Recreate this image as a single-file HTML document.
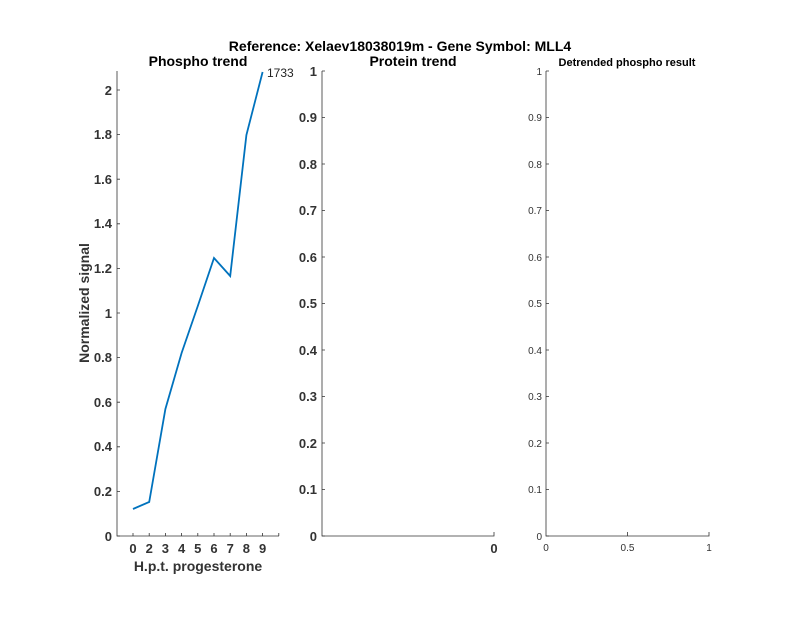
<!DOCTYPE html>
<html><head><style>body{margin:0;background:#fff}</style></head><body>
<svg width="800" height="618" xmlns="http://www.w3.org/2000/svg" font-family="Liberation Sans, sans-serif">
<rect width="800" height="618" fill="#fff"/>
<text x="400" y="51" text-anchor="middle" font-size="14" font-weight="bold" fill="#000">Reference:  Xelaev18038019m - Gene Symbol:  MLL4</text>
<g stroke="#333" stroke-width="0.8" fill="none">
<path d="M117,71 V536 H279"/>
<path d="M117,536h3M117,491.4h3M117,446.8h3M117,402.2h3M117,357.6h3M117,313h3M117,268.4h3M117,223.8h3M117,179.2h3M117,134.6h3M117,90h3"/>
<path d="M133,536v-3M149.2,536v-3M165.4,536v-3M181.6,536v-3M197.8,536v-3M214,536v-3M230.2,536v-3M246.4,536v-3M262.6,536v-3M278.8,536v-3"/>
</g>
<g font-size="13" font-weight="bold" fill="#333" text-anchor="end">
<text x="112" y="541">0</text><text x="112" y="496">0.2</text><text x="112" y="451">0.4</text><text x="112" y="407">0.6</text><text x="112" y="362">0.8</text><text x="112" y="318">1</text><text x="112" y="273">1.2</text><text x="112" y="228">1.4</text><text x="112" y="184">1.6</text><text x="112" y="139">1.8</text><text x="112" y="95">2</text>
</g>
<g font-size="13" font-weight="bold" fill="#333" text-anchor="middle">
<text x="133" y="553">0</text><text x="149.2" y="553">2</text><text x="165.4" y="553">3</text><text x="181.6" y="553">4</text><text x="197.8" y="553">5</text><text x="214" y="553">6</text><text x="230.2" y="553">7</text><text x="246.4" y="553">8</text><text x="262.6" y="553">9</text>
<text x="198" y="571" font-size="14">H.p.t. progesterone</text>
<text x="198" y="66" font-size="14" fill="#000">Phospho trend</text>
</g>
<text transform="translate(89,303) rotate(-90)" text-anchor="middle" font-size="14" font-weight="bold" fill="#333">Normalized signal</text>
<polyline fill="none" stroke="#0072BD" stroke-width="1.8" points="133,509 149.2,502 165.4,409 181.6,353 197.8,306 214,258 230.2,276 246.4,135 262.6,72"/>
<text x="267" y="77" font-size="12" fill="#222">1733</text>
<g stroke="#333" stroke-width="0.8" fill="none">
<path d="M322,71 V536 H494 v-4"/>
<path d="M322,536h3M322,489.5h3M322,443h3M322,396.5h3M322,350h3M322,303.5h3M322,257h3M322,210.5h3M322,164h3M322,117.5h3M322,71h3"/>
</g>
<g font-size="13" font-weight="bold" fill="#333" text-anchor="end">
<text x="317" y="541">0</text><text x="317" y="494">0.1</text><text x="317" y="448">0.2</text><text x="317" y="401">0.3</text><text x="317" y="355">0.4</text><text x="317" y="308">0.5</text><text x="317" y="262">0.6</text><text x="317" y="215">0.7</text><text x="317" y="169">0.8</text><text x="317" y="122">0.9</text><text x="317" y="76">1</text>
</g>
<text x="494" y="553" font-size="13" font-weight="bold" fill="#333" text-anchor="middle">0</text>
<text x="413" y="66" font-size="14" font-weight="bold" fill="#000" text-anchor="middle">Protein trend</text>
<g stroke="#333" stroke-width="0.8" fill="none">
<path d="M546,71 V536 H709 v-4"/>
<path d="M627.5,536v-4"/>
<path d="M546,536h3M546,489.5h3M546,443h3M546,396.5h3M546,350h3M546,303.5h3M546,257h3M546,210.5h3M546,164h3M546,117.5h3M546,71h3"/>
</g>
<g font-size="10" fill="#333" text-anchor="end">
<text x="542" y="540">0</text><text x="542" y="493">0.1</text><text x="542" y="447">0.2</text><text x="542" y="400">0.3</text><text x="542" y="354">0.4</text><text x="542" y="307">0.5</text><text x="542" y="261">0.6</text><text x="542" y="214">0.7</text><text x="542" y="168">0.8</text><text x="542" y="121">0.9</text><text x="542" y="75">1</text>
</g>
<g font-size="10" fill="#333" text-anchor="middle">
<text x="546" y="551">0</text><text x="627.5" y="551">0.5</text><text x="709" y="551">1</text>
</g>
<text x="627" y="66" font-size="11" font-weight="bold" fill="#000" text-anchor="middle">Detrended phospho result</text>
</svg>
</body></html>
